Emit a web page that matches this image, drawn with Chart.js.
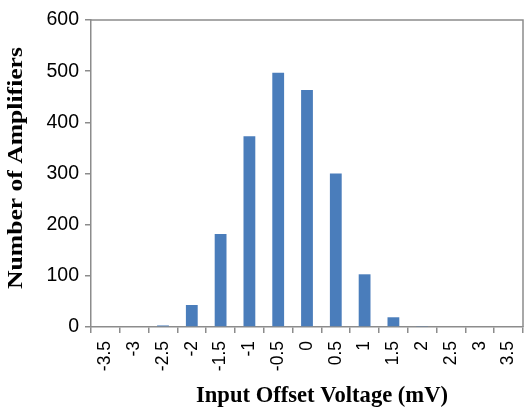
<!DOCTYPE html>
<html>
<head>
<meta charset="utf-8">
<script src="https://cdn.jsdelivr.net/npm/chart.js@4"></script>
<style>
  html, body { margin: 0; padding: 0; background: #fff; }
  #wrap { width: 525px; height: 413px; }
</style>
</head>
<body>
<div id="wrap"><canvas id="canvas1" width="525" height="413"></canvas></div>
<script>
"use strict";

// data
let labels = ["-3.5", "-3", "-2.5", "-2", "-1.5", "-1", "-0.5", "0", "0.5", "1", "1.5", "2", "2.5", "3", "3.5"];
let counts = [0, 0, 3, 43, 182, 373, 497, 463, 300, 103, 19, 2, 0, 0, 0];
let yTicks = [0, 100, 200, 300, 400, 500, 600];
let yTitle = "Number of Amplifiers";
let xTitle = "Input Offset Voltage (mV)";

let axisGray = "#8c8c8c";

// box round the plot area (top + right sides) and the two axis titles
let boxPlugin = {
    id: "box",
    afterDraw(chart) {
        let a = chart.chartArea;
        let ctx = chart.ctx;
        ctx.save();
        ctx.strokeStyle = axisGray;
        ctx.lineWidth = 1.5;
        ctx.beginPath();
        ctx.moveTo(a.left, a.top);
        ctx.lineTo(a.right, a.top);
        ctx.lineTo(a.right, a.bottom);
        ctx.stroke();
        ctx.restore();

        // x title, sits a bit right of the plot centre
        ctx.save();
        ctx.font = "bold 22.6px 'Liberation Serif'";
        ctx.fillStyle = "#000";
        ctx.textAlign = "center";
        ctx.textBaseline = "alphabetic";
        ctx.fillText(xTitle, 322, 401.5);
        ctx.restore();

        // y title: the source picture is stretched along this text
        ctx.save();
        ctx.font = "bold 21px 'Liberation Serif'";
        ctx.fillStyle = "#000";
        ctx.textAlign = "center";
        ctx.textBaseline = "middle";
        ctx.translate(17, 168);
        ctx.rotate(-Math.PI / 2);
        ctx.scale(1.22, 1);
        ctx.fillText(yTitle, 0, 0);
        ctx.restore();
    }
};

let canvas1 = document.querySelector("#canvas1");

let opts = {
    type: "bar",
    data: {
        labels: labels,
        datasets: [{
            label: yTitle,
            data: counts,
            backgroundColor: "#4a7dbb",
            categoryPercentage: 1,
            barPercentage: 0.41,
        }],
    },
    options: {
        responsive: false,
        animation: false,
        layout: { padding: { top: 20, right: 2, left: 0, bottom: 0 } },
        plugins: {
            legend: { display: false },
            tooltip: { enabled: false },
        },
        scales: {
            x: {
                grid: { offset: true, drawOnChartArea: false, tickLength: 6, color: axisGray, lineWidth: 1.5 },
                border: { color: axisGray, width: 1.5 },
                ticks: {
                    color: "#000",
                    font: { family: "Liberation Sans", size: 17.5 },
                    minRotation: 90,
                    maxRotation: 90,
                    padding: 8,
                },
                afterFit(scale) {
                    scale.height = 86;
                    scale.paddingLeft = 0;
                    scale.paddingRight = 0;
                },
            },
            y: {
                min: 0,
                max: 600,
                afterBuildTicks(scale) { scale.ticks = yTicks.map(v => ({ value: v })); },
                grid: { drawOnChartArea: false, tickLength: 6, color: axisGray, lineWidth: 1.5 },
                border: { color: axisGray, width: 1.5 },
                ticks: {
                    color: "#000",
                    font: { family: "Liberation Sans", size: 19.5 },
                    padding: 6,
                },
                afterFit(scale) { scale.width = 91; },
            },
        },
    },
    plugins: [boxPlugin],
};

let chart1 = new Chart(canvas1, opts);
</script>
</body>
</html>
